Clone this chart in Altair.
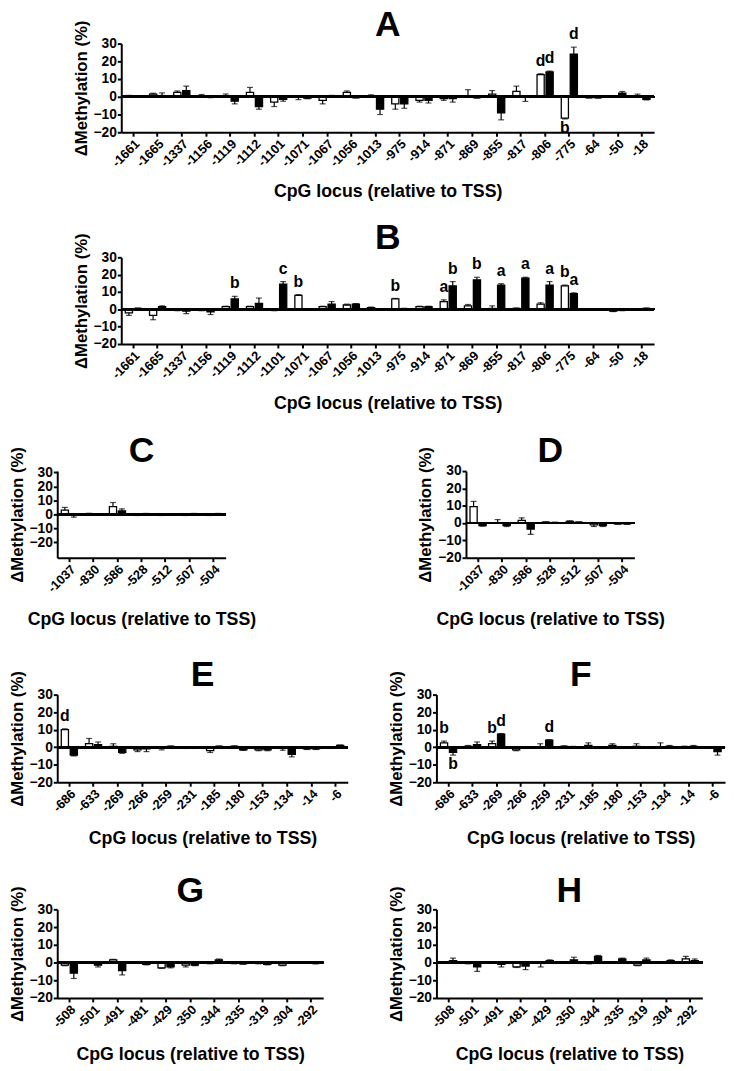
import altair as alt
import pandas as pd

FONT = "Liberation Sans"

# ---------------- Panel A ----------------
loci_A = ["-1661", "-1665", "-1337", "-1156", "-1119", "-1112", "-1101", "-1071", "-1067", "-1056", "-1013",
          "-975", "-914", "-871", "-869", "-855", "-817", "-806", "-775", "-64", "-50", "-18"]
white_A = [0.5, 1.5, 2.5, 0.5, 0.1, 2.5, -3.0, -0.1, -2.0, 2.5, 0.1, -4.0, -2.0, -1.0, 0.5, 1.5, 3.0, 12.5, -12.0, -0.5, 0.2, 0.5]
white_A_err = [0.3, 0.5, 0.8, 0.8, 1.5, 2.8, 2.5, 1.5, 2.0, 0.8, 1.0, 3.0, 1.0, 1.0, 3.5, 2.0, 3.0, 0.5, 0.5, 0.2, 0.3, 1.0]
black_A = [0.3, 0.7, 3.5, -0.3, -2.5, -5.5, -1.5, -0.8, 0.5, -0.5, -7.0, -4.0, -2.0, -1.0, -0.5, -9.0, -0.1, 14.0, 24.0, -0.5, 2.0, -1.5]
black_A_err = [0.3, 1.5, 2.5, 0.2, 1.5, 1.5, 1.0, 0.3, 0.3, 0.2, 3.0, 2.5, 1.5, 2.0, 0.3, 4.0, 2.5, 0.5, 4.0, 0.3, 1.0, 0.3]
lab_white_A = ["", "", "", "", "", "", "", "", "", "", "", "", "", "", "", "", "", "d", "b", "", "", ""]
lab_black_A = ["", "", "", "", "", "", "", "", "", "", "", "", "", "", "", "", "", "d", "d", "", "", ""]

# ---------------- Panel B ----------------
loci_B = loci_A
white_B = [-2.0, -3.5, -0.5, -0.5, 1.5, 1.5, -0.5, 8.0, 1.5, 2.5, 1.0, 6.0, 1.5, 4.5, 2.0, 0.5, 0.5, 3.0, 13.5, -0.3, -1.0, 0.1]
white_B_err = [1.5, 2.5, 0.3, 0.3, 0.3, 0.3, 0.3, 0.5, 0.3, 0.5, 0.3, 0.3, 0.3, 1.0, 0.8, 1.5, 0.3, 0.8, 0.5, 0.2, 0.3, 0.2]
black_B = [0.5, 1.5, -1.0, -1.5, 6.0, 3.5, 14.5, 0.0, 3.0, 3.0, -0.3, 0.3, 1.5, 13.5, 17.0, 14.0, 18.0, 14.0, 9.0, 0.2, -0.5, 0.5]
black_B_err = [0.3, 0.5, 1.5, 1.5, 1.5, 3.0, 1.5, 0.1, 1.5, 0.3, 0.2, 0.3, 0.3, 2.5, 1.5, 0.8, 0.5, 2.0, 0.5, 0.2, 0.3, 0.3]
lab_white_B = ["", "", "", "", "", "", "", "b", "", "", "", "b", "", "a", "", "", "", "", "b", "", "", ""]
lab_black_B = ["", "", "", "", "b", "", "c", "", "", "", "", "", "", "b", "b", "a", "a", "a", "a", "", "", ""]

# ---------------- Panels C, D ----------------
loci_CD = ["-1037", "-830", "-586", "-528", "-512", "-507", "-504"]
white_C = [3.0, 0.5, 5.5, -0.5, -0.5, -0.5, -0.5]
white_C_err = [2.0, 0.3, 3.0, 0.3, 0.3, 0.3, 0.3]
black_C = [-0.5, 0.2, 2.5, 0.5, 0.2, 0.5, 0.5]
black_C_err = [1.5, 0.2, 1.5, 0.2, 0.2, 0.2, 0.2]
white_D = [9.5, 0.2, 1.5, 0.5, 1.0, -1.0, -0.5]
white_D_err = [3.0, 1.8, 1.5, 0.3, 0.3, 1.0, 0.2]
black_D = [-1.5, -1.5, -3.5, 0.3, 0.5, -1.5, -0.5]
black_D_err = [0.3, 0.5, 3.0, 0.2, 0.2, 0.5, 0.2]
no_lab_7 = [""] * 7

# ---------------- Panels E, F ----------------
loci_EF = ["-686", "-633", "-269", "-266", "-259", "-231", "-185", "-180", "-153", "-134", "-14", "-6"]
white_E = [10.0, 2.0, 0.5, -1.5, -0.3, -0.5, -2.0, 0.5, -1.5, -0.2, -1.0, -0.5]
white_E_err = [0.5, 3.0, 1.5, 1.0, 1.2, 0.2, 1.0, 0.3, 0.5, 1.5, 0.3, 0.2]
black_E = [-4.5, 1.5, -3.0, -1.0, 0.5, -0.5, 0.5, -1.5, -1.5, -4.0, -1.0, 1.0]
black_E_err = [0.5, 1.5, 0.5, 1.5, 0.2, 0.2, 0.2, 0.3, 0.5, 1.5, 0.3, 0.3]
lab_white_E = ["d", "", "", "", "", "", "", "", "", "", "", ""]
lab_black_E = [""] * 12
white_F = [2.5, 0.5, 2.0, -1.5, 0.3, 0.5, 1.0, 1.0, 0.5, 0.3, 0.3, 0.0]
white_F_err = [1.0, 0.5, 1.5, 0.5, 1.7, 0.3, 1.5, 1.0, 1.5, 2.2, 0.3, 0.1]
black_F = [-3.0, 1.5, 7.5, -0.5, 4.0, 0.3, -0.5, -0.5, 0.0, 0.5, 0.5, -2.5]
black_F_err = [1.5, 1.5, 0.3, 0.2, 0.3, 0.2, 0.2, 0.2, 0.1, 0.5, 0.5, 2.0]
lab_white_F = ["b", "", "b", "", "", "", "", "", "", "", "", ""]
lab_black_F = ["b", "", "d", "", "d", "", "", "", "", "", "", ""]

# ---------------- Panels G, H ----------------
loci_GH = ["-508", "-501", "-491", "-481", "-429", "-350", "-344", "-335", "-319", "-304", "-292"]
white_G = [-1.5, -0.3, 1.5, -0.3, -3.0, -1.5, -0.5, -0.5, -0.5, -1.5, 0.0]
white_G_err = [0.3, 0.2, 0.3, 0.2, 0.3, 1.0, 0.2, 0.2, 0.2, 0.3, 0.1]
black_G = [-6.0, -1.5, -4.5, -1.0, -2.5, -1.5, 1.5, -0.7, -1.0, -0.3, -0.5]
black_G_err = [3.0, 1.0, 2.5, 0.3, 0.5, 0.3, 0.5, 0.3, 0.3, 0.2, 0.3]
white_H = [0.3, -0.5, -0.3, -2.5, -0.5, 0.3, -0.5, 0.3, -1.5, 0.3, 2.0]
white_H_err = [0.2, 0.2, 0.2, 0.3, 2.0, 0.2, 0.2, 0.2, 0.3, 0.2, 1.5]
black_H = [1.0, -2.5, -1.0, -2.0, 1.0, 1.5, 3.5, 2.0, 1.5, 1.0, 1.0]
black_H_err = [1.5, 2.5, 1.5, 2.0, 0.5, 1.5, 0.5, 0.5, 1.0, 0.5, 1.0]
no_lab_11 = [""] * 11

y_ticks = [-20, -10, 0, 10, 20, 30]
SERIES = ["white", "black"]


def make_df(loci, wv, we, bv, be, wl, bl):
    rows = []
    for i, loc in enumerate(loci):
        for s, v, e, l in (("white", wv[i], we[i], wl[i]), ("black", bv[i], be[i], bl[i])):
            sgn = 1 if v >= 0 else -1
            rows.append(dict(locus=loc, series=s, v=v, end=v + sgn * e, letter=l, up=bool(sgn > 0)))
    return pd.DataFrame(rows)


def panel(title, loci, wv, we, bv, be, wl, bl, width, height, ydom, xtp):
    df = make_df(loci, wv, we, bv, be, wl, bl)
    xenc = alt.X("locus:N", sort=loci,
                 scale=alt.Scale(paddingInner=0.26, paddingOuter=0.13),
                 axis=alt.Axis(title="CpG locus (relative to TSS)", labelAngle=-45,
                               labelOverlap=False, labelFontSize=13, titleFontSize=18,
                               titlePadding=xtp, labelPadding=1))
    xoff = alt.XOffset("series:N", sort=SERIES,
                       scale=alt.Scale(domain=SERIES, paddingInner=0.2, paddingOuter=0.1))
    yscale = alt.Scale(domain=ydom, nice=False, zero=False)
    yaxis = alt.Axis(values=y_ticks, title="ΔMethylation (%)", labelFlush=False, labelOverlap=False,
                     labelFontSize=14, titleFontSize=17, titlePadding=3, labelPadding=1)

    def Y(field):
        return alt.Y(field, scale=yscale, axis=yaxis)

    base = alt.Chart(df)
    err = base.mark_rule(color="black", strokeWidth=1.2).encode(
        x=xenc, xOffset=xoff, y=Y("v:Q"), y2="end:Q")
    cap = base.mark_tick(color="black", thickness=1.2, size=6, orient="horizontal").encode(
        x=xenc, xOffset=xoff, y=Y("end:Q"))
    bars = base.mark_bar(stroke="black", strokeWidth=1.3).encode(
        x=xenc, xOffset=xoff, y=Y("v:Q"), y2=alt.datum(0),
        fill=alt.Fill("series:N", scale=alt.Scale(domain=SERIES, range=["white", "black"]), legend=None))
    zero = base.mark_rule(color="black", strokeWidth=2).encode(y=Y("zero:Q")).transform_calculate(zero="0")
    up = base.transform_filter("datum.letter != '' && datum.up").mark_text(
        font=FONT, fontSize=16, fontWeight="bold", baseline="alphabetic", dy=-8, color="black").encode(
        x=xenc, xOffset=xoff, y=Y("end:Q"), text="letter:N")
    down = base.transform_filter("datum.letter != '' && !datum.up").mark_text(
        font=FONT, fontSize=16, fontWeight="bold", baseline="top", dy=1, color="black").encode(
        x=xenc, xOffset=xoff, y=Y("end:Q"), text="letter:N")
    return alt.layer(bars, err, cap, zero, up, down).properties(
        width=width, height=height,
        title=alt.TitleParams(title, fontSize=36, font=FONT, fontWeight="bold",
                              anchor="middle", frame="group", offset=-24, color="black"))


def spacer(w):
    return alt.Chart(pd.DataFrame({"s": [0]})).mark_point(opacity=0).encode(
        x=alt.value(0), y=alt.value(0)).properties(width=w, height=1)


A = panel("A", loci_A, white_A, white_A_err, black_A, black_A_err, lab_white_A, lab_black_A, 541, 90, [-20, 30], 14)
B = panel("B", loci_B, white_B, white_B_err, black_B, black_B_err, lab_white_B, lab_black_B, 541, 88, [-20, 30], 14)
C = panel("C", loci_CD, white_C, white_C_err, black_C, black_C_err, no_lab_7, no_lab_7, 171, 88, [-31, 31], 16)
D = panel("D", loci_CD, white_D, white_D_err, black_D, black_D_err, no_lab_7, no_lab_7, 171, 88, [-20, 30], 16)
E = panel("E", loci_EF, white_E, white_E_err, black_E, black_E_err, lab_white_E, lab_black_E, 295, 89, [-20, 30], 16)
F = panel("F", loci_EF, white_F, white_F_err, black_F, black_F_err, lab_white_F, lab_black_F, 293, 89, [-20, 30], 16)
G = panel("G", loci_GH, white_G, white_G_err, black_G, black_G_err, no_lab_11, no_lab_11, 270, 90, [-20, 30], 16)
H = panel("H", loci_GH, white_H, white_H_err, black_H, black_H_err, no_lab_11, no_lab_11, 270, 90, [-20, 30], 16)

rowA = alt.hconcat(spacer(15), A, spacing=0)
rowB = alt.hconcat(spacer(15), B, spacing=0)
rowCD = alt.hconcat(C, D, spacing=163)
rowEF = alt.hconcat(E, F, spacing=39)
rowGH = alt.hconcat(G, H, spacing=64)

s1 = alt.vconcat(rowA, rowB, spacing=19)
s2 = alt.vconcat(s1, rowCD, spacing=21)
s3 = alt.vconcat(s2, rowEF, spacing=29)
chart = alt.vconcat(s3, rowGH, spacing=25).properties(
    padding={"left": 0, "top": -9, "right": 0, "bottom": 0}
).configure_view(stroke=None).configure_axis(
    labelFont=FONT, titleFont=FONT, labelFontWeight="bold", titleFontWeight="bold",
    labelColor="black", titleColor="black", domainColor="black", tickColor="black",
    domainWidth=2, tickWidth=2, tickSize=4, grid=False, labelOverlap=False
).configure_axisY(labelOverlap=False, labelSeparation=0)

chart.save("out.html", embed_options={"renderer": "svg", "actions": False})
